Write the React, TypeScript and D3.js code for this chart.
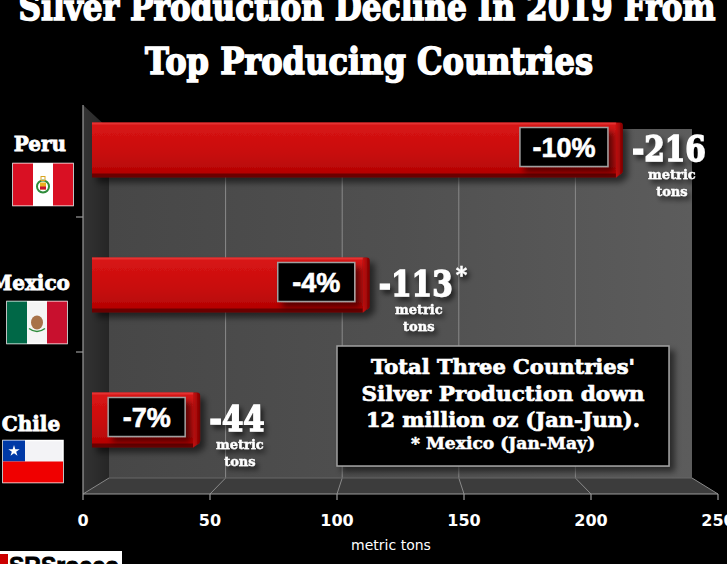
import React from 'react';
import * as d3 from 'd3';

// chart values
const categories = ['Peru', 'Mexico', 'Chile'];
const declines = [216, 113, 44];
const pctLabels = ['-10%', '-4%', '-7%'];
const valueLabels = ['-216', '-113', '-44'];
const asterisks = ['', '*', ''];
const xTicks = [0, 50, 100, 150, 200, 250];
const titleLines = ['Silver Production Decline In 2019 From', 'Top Producing Countries'];
const noteLines = ["Total Three Countries'", 'Silver Production down', '12 million oz (Jan-Jun).'];
const noteFoot = '* Mexico (Jan-May)';

const W = 727;
const H = 564;

// 3D box of the chart (front / back planes)
const FRONT_TOP = 105;
const BACK_TOP = 129;
const BACK_BOTTOM = 478;
const FRONT_BOTTOM = 494;

// hand placed category labels + flags (x of label centre, x of flag, y offsets from bar top)
const labelLayout = [
  { cx: 40, fx: 13, ly: 28, fy: 41 },
  { cx: 30, fx: 7, ly: 32, fy: 44 },
  { cx: 31, fx: 3, ly: 38, fy: 48 },
];

const SERIF = '"DejaVu Serif", serif';
const SANS = '"Liberation Sans", Arial, sans-serif';

const Flag: React.FC<{ name: string; x: number; y: number }> = ({ name, x, y }) => {
  const w = 60;
  const h = 42;
  if (name === 'Peru') {
    return (
      <g transform={`translate(${x},${y})`}>
        <rect width={w} height={h} fill="#fff" stroke="#fff" strokeWidth={1.5} />
        <rect width={w / 3} height={h} fill="#d91023" />
        <rect x={(2 * w) / 3} width={w / 3} height={h} fill="#d91023" />
        <circle cx={w / 2} cy={h / 2 + 2} r={6} fill="none" stroke="#2e8b3a" strokeWidth={2} />
        <rect x={w / 2 - 3} y={h / 2 - 2} width={6} height={7} fill="#e8b020" />
        <rect x={w / 2 - 3} y={h / 2 + 2} width={6} height={3} fill="#c8102e" />
        <rect x={w / 2 - 2} y={h / 2 - 8} width={4} height={4} fill="none" stroke="#d9a520" strokeWidth={1} />
      </g>
    );
  }
  if (name === 'Mexico') {
    return (
      <g transform={`translate(${x},${y})`}>
        <rect width={w} height={h} fill="#f5f5f5" stroke="#fff" strokeWidth={1.5} />
        <rect width={w / 3} height={h} fill="#006847" />
        <rect x={(2 * w) / 3} width={w / 3} height={h} fill="#c8102e" />
        <ellipse cx={w / 2} cy={h / 2} rx={6} ry={7} fill="#9a5a2a" opacity={0.85} />
        <path d={`M${w / 2 - 8},${h / 2 + 6} Q${w / 2},${h / 2 + 12} ${w / 2 + 8},${h / 2 + 6}`} fill="none" stroke="#2e8b3a" strokeWidth={1.5} />
      </g>
    );
  }
  const half = h / 2;
  const star = d3.symbol().type(d3.symbolStar).size(40)();
  return (
    <g transform={`translate(${x},${y})`}>
      <rect width={w} height={h} fill="#f3f3f6" stroke="#fff" strokeWidth={1.5} />
      <rect width={w / 3 + 2} height={half} fill="#0039a6" />
      <rect y={half} width={w} height={half} fill="#f00000" />
      <path d={star || ''} transform={`translate(${(w / 3 + 2) / 2},${half / 2})`} fill="#fff" />
    </g>
  );
};

export default function App() {
  const xFront = d3.scaleLinear().domain([0, 250]).range([83, 718]);
  const xBack = d3.scaleLinear().domain([0, 250]).range([109, 692]);
  const xBar = d3.scaleLinear().domain([0, 250]).range([92, 706.5]);
  const yBand = d3
    .scaleBand<string>()
    .domain(categories)
    .range([82, 487])
    .paddingInner(0.6)
    .paddingOuter(0.3);
  const bw = yBand.bandwidth();

  const x0 = xBack(0);
  const x1 = xBack(250);

  return (
    <svg width={W} height={H} style={{ display: 'block', position: 'absolute', left: 0, top: 0, background: '#000' }}>
      <defs>
        <linearGradient id="wall" x1="0" x2="1" y1="0" y2="0">
          <stop offset="0" stopColor="#474747" />
          <stop offset="0.5" stopColor="#505050" />
          <stop offset="1" stopColor="#5c5c5c" />
        </linearGradient>
        <linearGradient id="side" x1="0" x2="1" y1="0" y2="0">
          <stop offset="0" stopColor="#333" />
          <stop offset="1" stopColor="#262626" />
        </linearGradient>
        <linearGradient id="barFront" x1="0" x2="0" y1="0" y2="1">
          <stop offset="0" stopColor="#d91515" />
          <stop offset="0.6" stopColor="#c80c0c" />
          <stop offset="1" stopColor="#b50404" />
        </linearGradient>
        <linearGradient id="barSide" x1="0" x2="1" y1="0" y2="0">
          <stop offset="0" stopColor="#d01010" />
          <stop offset="1" stopColor="#7a0000" />
        </linearGradient>
        <filter id="shadow" x="-20%" y="-30%" width="140%" height="170%">
          <feDropShadow dx="5" dy="5" stdDeviation="3" floodColor="#000" floodOpacity="0.55" />
        </filter>
        <filter id="tshadow" x="-20%" y="-30%" width="150%" height="170%">
          <feDropShadow dx="3" dy="4" stdDeviation="2.5" floodColor="#000" floodOpacity="0.6" />
        </filter>
      </defs>

      {/* title */}
      <g fill="#fff" stroke="#fff" strokeWidth={1.6} fontFamily={SERIF} fontWeight="bold" textAnchor="middle">
        <text x={367} y={20} fontSize={37} textLength={697} lengthAdjust="spacingAndGlyphs">
          {titleLines[0]}
        </text>
        <text x={369} y={74} fontSize={37} textLength={448} lengthAdjust="spacingAndGlyphs">
          {titleLines[1]}
        </text>
      </g>

      {/* 3D walls */}
      <polygon
        points={`${xFront(0)},${FRONT_TOP} ${x0},${BACK_TOP} ${x0},${BACK_BOTTOM} ${xFront(0)},${FRONT_BOTTOM}`}
        fill="url(#side)"
      />
      <rect x={x0} y={BACK_TOP} width={x1 - x0} height={BACK_BOTTOM - BACK_TOP} fill="url(#wall)" />
      <polygon
        points={`${x0},${BACK_BOTTOM} ${x1},${BACK_BOTTOM} ${xFront(250)},${FRONT_BOTTOM} ${xFront(0)},${FRONT_BOTTOM}`}
        fill="#3c3c3c"
      />

      {/* grid on back wall and floor */}
      <g stroke="#8a8a8a" strokeWidth={1}>
        {xTicks.map((t) => (
          <g key={t}>
            {t > 0 && t < 250 && <line x1={xBack(t)} x2={xBack(t)} y1={BACK_TOP} y2={BACK_BOTTOM} />}
            <line x1={xBack(t)} x2={xFront(t)} y1={BACK_BOTTOM} y2={FRONT_BOTTOM} />
          </g>
        ))}
        <line x1={x0} x2={x1} y1={BACK_BOTTOM} y2={BACK_BOTTOM} stroke="#666" />
      </g>

      {/* axes */}
      <g stroke="#9a9a9a" strokeWidth={1.2}>
        <line x1={xFront(0)} x2={xFront(0)} y1={FRONT_TOP} y2={FRONT_BOTTOM} />
        <line x1={xFront(0)} x2={xFront(250)} y1={FRONT_BOTTOM} y2={FRONT_BOTTOM} />
        {xTicks.map((t) => (
          <line key={t} x1={xFront(t)} x2={xFront(t)} y1={FRONT_BOTTOM} y2={FRONT_BOTTOM + 6} />
        ))}
        {categories.slice(1).map((c, i) => {
          const y = ((yBand(categories[i]) as number) + (yBand(c) as number)) / 2 + bw / 2;
          return <line key={c} x1={xFront(0) - 7} x2={xFront(0)} y1={y} y2={y} />;
        })}
      </g>

      {/* bars */}
      {categories.map((c, i) => {
        const y = yBand(c) as number;
        const bx0 = xBar(0);
        const bx1 = xBar(declines[i]);
        const d = 7;
        return (
          <g key={c}>
            <g filter="url(#shadow)">
              <rect x={bx0} y={y + bw - 4} width={bx1 - d - bx0} height={5} fill="#6a0000" />
              <rect x={bx0} y={y} width={bx1 - d - bx0} height={bw - 3} fill="url(#barFront)" />
              <path
                d={`M${bx1 - d},${y} L${bx1 - 3},${y} Q${bx1},${y} ${bx1},${y + 3} L${bx1},${y + bw - 6} Q${bx1},${y + bw - 3} ${bx1 - 3},${y + bw - 2} L${bx1 - d},${y + bw + 1} Z`}
                fill="url(#barSide)"
              />
            </g>
            <rect x={bx0} y={y} width={bx1 - d - bx0} height={2} fill="#e83a3a" opacity={0.8} />
          </g>
        );
      })}

      {/* percent boxes */}
      {categories.map((c, i) => {
        const y = yBand(c) as number;
        const right = xBar(declines[i]) - 15;
        const bwid = 11 * pctLabels[i].length + 44;
        return (
          <g key={c}>
            <rect
              x={right - bwid}
              y={y + 5}
              width={bwid}
              height={39}
              fill="#000"
              stroke="#a0a0a0"
              strokeWidth={1.5}
              filter="url(#shadow)"
            />
            <text
              x={right - bwid / 2}
              y={y + 34}
              textAnchor="middle"
              fill="#fff"
              stroke="#fff"
              strokeWidth={0.6}
              fontFamily={SANS}
              fontWeight="bold"
              fontSize={27}
            >
              {pctLabels[i]}
            </text>
          </g>
        );
      })}

      {/* value labels */}
      {categories.map((c, i) => {
        const y = yBand(c) as number;
        const lx = xBar(declines[i]) + 9;
        const numW = valueLabels[i].length * 18.5;
        return (
          <g key={c} fill="#fff" stroke="#fff" fontFamily={SERIF} fontWeight="bold" filter="url(#tshadow)">
            <text x={lx} y={y + 38} fontSize={35} strokeWidth={1.4} textLength={numW} lengthAdjust="spacingAndGlyphs">
              {valueLabels[i]}
            </text>
            {asterisks[i] && (
              <text x={lx + numW + 3} y={y + 24} fontSize={22} strokeWidth={0.5}>
                {asterisks[i]}
              </text>
            )}
            <text x={lx + numW / 2 + 3} y={y + 56} fontSize={13} strokeWidth={0.4} textAnchor="middle">
              metric
            </text>
            <text x={lx + numW / 2 + 3} y={y + 73} fontSize={13} strokeWidth={0.4} textAnchor="middle">
              tons
            </text>
          </g>
        );
      })}

      {/* note box */}
      <g>
        <rect x={337} y={346} width={332} height={120} fill="#000" stroke="#a0a0a0" strokeWidth={1.5} filter="url(#shadow)" />
        <g fill="#fff" stroke="#fff" strokeWidth={0.7} fontFamily={SERIF} fontWeight="bold" textAnchor="middle">
          {noteLines.map((l, i) => (
            <text key={l} x={503} y={374 + i * 26.5} fontSize={21} textLength={[264, 283, 274][i]} lengthAdjust="spacingAndGlyphs">
              {l}
            </text>
          ))}
          <text x={503} y={449} fontSize={16} strokeWidth={0.5} textLength={184} lengthAdjust="spacingAndGlyphs">
            {noteFoot}
          </text>
        </g>
      </g>

      {/* category labels + flags */}
      {categories.map((c, i) => {
        const y = yBand(c) as number;
        const L = labelLayout[i];
        return (
          <g key={c}>
            <text
              x={L.cx}
              y={y + L.ly}
              textAnchor="middle"
              fill="#fff"
              stroke="#fff"
              strokeWidth={0.8}
              fontFamily={SERIF}
              fontWeight="bold"
              fontSize={20}
            >
              {c}
            </text>
            <Flag name={c} x={L.fx} y={y + L.fy} />
          </g>
        );
      })}

      {/* x tick labels */}
      <g fill="#fff" fontFamily='"DejaVu Sans", Verdana, sans-serif' fontWeight="bold" fontSize={16} textAnchor="middle">
        {xTicks.map((t) => (
          <text key={t} x={xFront(t)} y={526}>
            {t}
          </text>
        ))}
      </g>
      <text x={391} y={550} fill="#fff" fontFamily='"DejaVu Sans", Verdana, sans-serif' fontSize={14} textAnchor="middle">
        metric tons
      </text>

      {/* logo */}
      <rect x={0} y={551} width={122} height={13} fill="#fff" />
      <rect x={0} y={554} width={8} height={10} fill="#c00" />
      <text x={9} y={574} fill="#000" stroke="#000" strokeWidth={0.8} fontFamily={SANS} fontWeight="bold" fontSize={24} textLength={110} lengthAdjust="spacingAndGlyphs">
        SRSrocco
      </text>
    </svg>
  );
}
